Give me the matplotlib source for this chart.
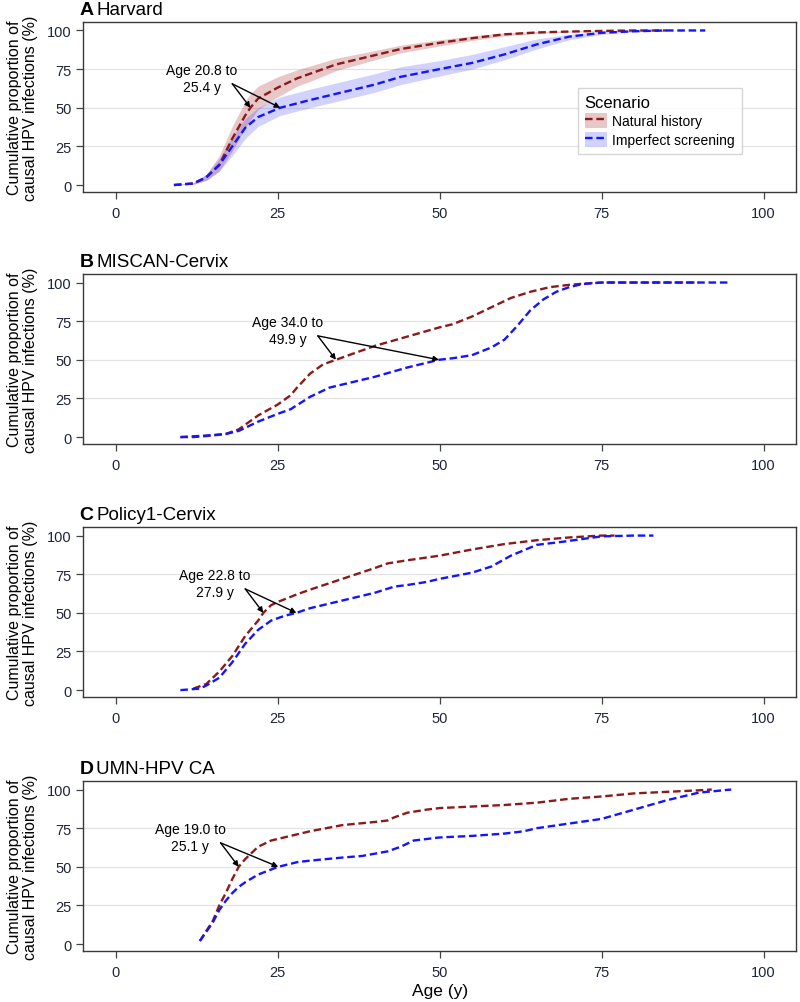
import matplotlib
matplotlib.use('Agg')
import matplotlib.pyplot as plt
from matplotlib.patches import Patch
from matplotlib.lines import Line2D

plt.rcParams['font.family'] = ['Liberation Sans', 'DejaVu Sans']

# ---- data ----
# A Harvard
ha_age_nh = [9, 12, 14, 16, 18, 20, 20.8, 22, 25, 28, 30, 34, 40, 44, 50, 55, 60, 65, 70, 75, 80, 85]
ha_nh = [0, 1, 5, 13, 30, 45, 50, 56, 63, 69, 72, 78, 84, 88, 92, 95, 97.5, 98.7, 99.3, 99.7, 100, 100]
ha_nh_lo = [0, 0.5, 3, 9, 22, 37, 42, 49, 57, 64, 67, 74, 81, 85.5, 90, 93.5, 96.5, 98, 99, 99.5, 99.8, 100]
ha_nh_hi = [0, 1.5, 7, 19, 38, 54, 59, 64, 70, 74.5, 77, 82, 87, 90.5, 94, 96.5, 98.5, 99.4, 99.7, 99.9, 100, 100]
ha_age_is = [9, 12, 14, 16, 18, 20, 22, 25.4, 30, 34, 40, 44, 50, 55, 60, 65, 70, 75, 80, 85, 91]
ha_is = [0, 1, 5, 13, 25, 37, 44, 50, 55, 59, 65, 70, 75, 79, 84.5, 91, 96, 98.5, 99.5, 100, 100]
ha_is_lo = [0, 0.5, 3, 9, 19, 30, 38, 45, 50, 54, 60, 65, 70.5, 75, 81, 88, 94, 97.5, 99, 99.8, 100]
ha_is_hi = [0, 1.5, 7, 17, 31, 43, 50, 57, 62, 66, 72, 76.5, 80.5, 84.5, 89.5, 94.5, 97.5, 99.3, 99.9, 100, 100]

# B MISCAN-Cervix
mi_age_nh = [10, 12, 15, 17, 19, 20, 22, 25, 27, 28, 30, 32, 34, 36, 40, 45, 50, 52, 55, 58, 61, 64, 67, 70, 73, 75, 80, 90]
mi_nh = [0, 0, 1, 2, 5, 8, 14, 21, 27, 32, 41, 47, 50, 53, 59, 65, 71, 73, 78, 84, 90, 94, 97, 98.5, 99.5, 100, 100, 100]
mi_age_is = [10, 14, 17, 19, 20, 22, 25, 27, 30, 33, 37, 40, 45, 49.9, 52, 55, 58, 60, 62, 64, 66, 68, 70, 72, 75, 95]
mi_is = [0, 1, 2, 4, 6, 10, 15, 18, 26, 32, 36, 39, 45, 50, 51, 53, 58, 63, 72, 82, 89, 94, 97, 99, 100, 100]

# C Policy1-Cervix
po_age_nh = [12, 14, 16, 18, 20, 22, 22.8, 24, 25, 28, 30, 35, 40, 42, 45, 50, 55, 60, 65, 70, 75, 77]
po_nh = [1, 4, 12, 22, 35, 45, 50, 55, 57, 62, 65, 72, 79, 82, 84, 87, 91, 94.5, 97, 98.8, 100, 100]
po_age_is = [10, 13, 14, 16, 18, 20, 22, 24, 26, 27.9, 30, 35, 40, 43, 45, 48, 50, 55, 58, 61, 65, 69, 75, 80, 83]
po_is = [0, 1, 3, 8, 18, 30, 39, 45, 48, 50, 53, 58, 63, 67, 68, 70, 72, 76, 80, 87, 94, 96, 99.5, 100, 100]

# D UMN-HPV CA
um_age_nh = [13, 15, 16, 17, 18, 19, 20, 22, 24, 26, 28, 30, 35, 40, 42, 43, 45, 48, 50, 55, 60, 65, 70, 75, 80, 85, 90, 92]
um_nh = [2, 15, 25, 33, 42, 50, 55, 63, 67, 69, 71, 73, 77, 79, 80, 82, 85, 87, 88, 89, 90, 91.5, 94, 95.5, 97.5, 98.5, 99.5, 100]
um_age_is = [13, 15, 16, 17, 18, 19, 20, 22, 25.1, 28, 30, 35, 38, 40, 42, 44, 46, 48, 50, 55, 60, 63, 65, 70, 75, 80, 85, 90, 95]
um_is = [2, 14, 22, 28, 33, 37, 40, 45, 50, 53, 54, 56, 57, 58.5, 60, 63, 67, 68, 69, 70, 71.5, 73, 75, 78, 81, 87, 93, 98, 100]

panels = [
    ('A', 'Harvard', ha_age_nh, ha_nh, ha_age_is, ha_is, 20.8, 25.4, 'Age 20.8 to\n25.4 y'),
    ('B', 'MISCAN-Cervix', mi_age_nh, mi_nh, mi_age_is, mi_is, 34.0, 49.9, 'Age 34.0 to\n49.9 y'),
    ('C', 'Policy1-Cervix', po_age_nh, po_nh, po_age_is, po_is, 22.8, 27.9, 'Age 22.8 to\n27.9 y'),
    ('D', 'UMN-HPV CA', um_age_nh, um_nh, um_age_is, um_is, 19.0, 25.1, 'Age 19.0 to\n25.1 y'),
]

red = '#8b1a1a'
blue = '#1414ff'
dash = (0, (3.2, 1.6))
tick_col = '#1e2538'
red_band = dict(color='#a52a2a', alpha=0.26, lw=0)
blue_band = dict(color='#2020ff', alpha=0.2, lw=0)

fig = plt.figure(figsize=(8, 10.03), dpi=100)
bottoms = [0.8076, 0.5563, 0.304, 0.0508]

for (letter, name, a_nh, v_nh, a_is, v_is, m_nh, m_is, note), b in zip(panels, bottoms):
    ax = fig.add_axes([0.104, b, 0.891, 0.1695])
    if letter == 'A':
        ax.fill_between(a_nh, ha_nh_lo, ha_nh_hi, **red_band)
        ax.fill_between(a_is, ha_is_lo, ha_is_hi, **blue_band)
    for y in (25, 50, 75):
        ax.axhline(y, color='#e3e3e3', lw=0.9, zorder=0)
    ax.plot(a_nh, v_nh, color=red, lw=1.7, ls=dash)
    ax.plot(a_is, v_is, color=blue, lw=1.7, ls=dash)

    # annotation with two arrows
    tx, ty = m_nh - 7.5, 69
    sx, sy = m_nh - 2.8, 65.5
    ax.text(tx, ty, note, ha='center', va='center', fontsize=10, linespacing=1.25)
    for mx in (m_nh, m_is):
        ax.annotate('', xy=(mx, 50), xytext=(sx, sy),
                    arrowprops=dict(arrowstyle='-|>', color='black', lw=1.0,
                                    mutation_scale=8, shrinkA=0, shrinkB=0))

    ax.set_xlim(-5, 105)
    ax.set_ylim(-4.5, 105.5)
    ax.set_xticks([0, 25, 50, 75, 100])
    ax.set_yticks([0, 25, 50, 75, 100])
    ax.tick_params(direction='out', length=5, width=0.9, colors='#444444',
                   labelcolor=tick_col, labelsize=10.5)
    ax.tick_params(axis='x', pad=5)
    for s in ax.spines.values():
        s.set_color('#3a3a3a')
        s.set_linewidth(1.0)
    ax.set_ylabel('Cumulative proportion of\ncausal HPV infections (%)', fontsize=11.5,
                  labelpad=6, linespacing=1.1)

    t = ax.text(-0.005, 1.025, letter, transform=ax.transAxes, fontsize=14,
                fontweight='bold', ha='left', va='bottom')
    ax.annotate(name, xy=(1, 0), xycoords=t, xytext=(2, 0), textcoords='offset points',
                fontsize=13.5, ha='left', va='bottom')

    if letter == 'A':
        handles = [
            (Patch(**red_band), Line2D([], [], color=red, lw=1.7, ls=dash)),
            (Patch(**blue_band), Line2D([], [], color=blue, lw=1.7, ls=dash)),
        ]
        leg = ax.legend(handles, ['Natural history', 'Imperfect screening'], title='Scenario',
                        loc='lower left', bbox_to_anchor=(0.684, 0.182), fontsize=10,
                        title_fontsize=12, fancybox=False, edgecolor='#cccccc',
                        alignment='left', handlelength=1.6, handleheight=1.3,
                        handletextpad=0.4, borderpad=0.5, labelspacing=0.25)
        leg.get_frame().set_linewidth(1.0)
    if letter == 'D':
        ax.set_xlabel('Age (y)', fontsize=12.5, labelpad=3)

fig.savefig('out.png', dpi=100)
